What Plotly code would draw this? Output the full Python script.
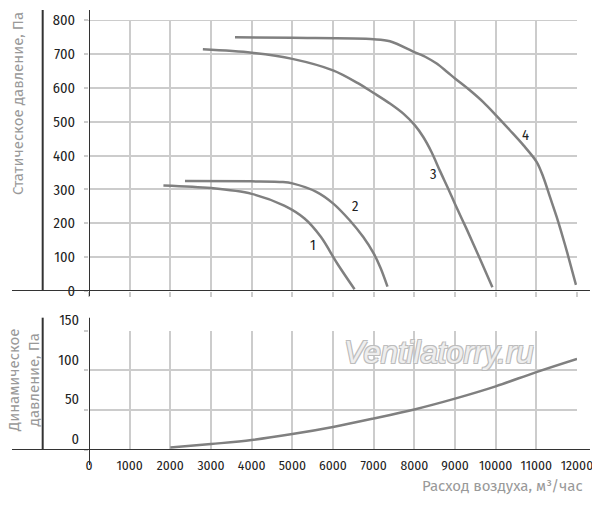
import plotly.graph_objects as go

# air flow, m3/h  /  static pressure, Pa  (curves 1-4)
flow_1 = [1830, 3000, 4000, 4800, 5300, 5700, 6100, 6530]
pres_1 = [312, 304, 287, 252, 214, 160, 82, 5]

flow_2 = [2360, 4000, 4770, 5000, 5590, 6000, 6410, 6740, 7000, 7170, 7340]
pres_2 = [325, 324, 322, 318, 293, 259, 209, 160, 111, 68, 13]

flow_3 = [2800, 4000, 5000, 6000, 6600, 7000, 7400, 7730, 8010, 8220, 8425,
          8630, 8850, 9000, 9290, 9610, 9920]
pres_3 = [714, 704, 686, 652, 615, 585, 554, 524, 490, 455, 410,
          355, 298, 257, 182, 96, 11]

flow_4 = [3590, 5000, 7000, 7400, 8000, 8300, 8550, 8800, 9000, 9366, 9695, 10010,
          10350, 10680, 11010, 11170, 11335, 11500, 11600, 11765, 11975]
pres_4 = [750, 748, 744, 738, 706, 690, 672, 648, 628, 593, 558, 519,
          475, 431, 381, 337, 278, 219, 180, 111, 18]

# dynamic pressure
flow_dyn = [2000, 3000, 4000, 5000, 6000, 7000, 8000, 9000, 10000, 11000, 12000]
pres_dyn = [3, 7.5, 12.5, 20, 29, 39.6, 51, 64.6, 80, 98, 114.6]

curve_names = ["1", "2", "3", "4"]
label_flow = [5515, 6540, 8466, 10745]
label_pres = [136, 252, 345, 460]

flow_ticks = list(range(0, 12001, 1000))
static_ticks = list(range(0, 801, 100))
dynamic_ticks = [0, 50, 100, 150]

NARROW = "Fira Sans Condensed, DejaVu Sans Condensed, sans-serif"
TITLE_FONT = "Fira Sans, Open Sans, sans-serif"
GRID = "#cccccc"
DARK = "#333333"
CURVE = "#808080"

fig = go.Figure()

for fl, pr in [(flow_1, pres_1), (flow_2, pres_2), (flow_3, pres_3), (flow_4, pres_4)]:
    fig.add_trace(go.Scatter(x=fl, y=pr, mode="lines", xaxis="x", yaxis="y",
                             line=dict(color=CURVE, width=2.5, shape="spline", smoothing=0.9),
                             hoverinfo="skip"))

fig.add_trace(go.Scatter(x=flow_dyn, y=pres_dyn, mode="lines", xaxis="x2", yaxis="y2",
                         line=dict(color=CURVE, width=2.5, shape="spline"),
                         hoverinfo="skip"))

annotations = []
for name, fx, py in zip(curve_names, label_flow, label_pres):
    annotations.append(dict(x=fx, y=py, xref="x", yref="y", text=name, showarrow=False,
                            font=dict(family=NARROW, size=14.5, color="#222222")))

# axis titles
annotations.append(dict(x=-0.1455, y=0.807, xref="paper", yref="paper",
                        xanchor="center", yanchor="middle",
                        text="Статическое давление, Па", textangle=-90, showarrow=False,
                        font=dict(family=TITLE_FONT, size=15, color="#999999")))
annotations.append(dict(x=-0.133, y=0.163, xref="paper", yref="paper",
                        xanchor="center", yanchor="middle",
                        text="Динамическое<br>давление, Па", textangle=-90, showarrow=False,
                        font=dict(family=TITLE_FONT, size=15, color="#999999")))
annotations.append(dict(x=1.0164, y=-0.0837, xref="paper", yref="paper",
                        xanchor="right", yanchor="middle",
                        text="Расход воздуха, м³/час", showarrow=False,
                        font=dict(family=TITLE_FONT, size=15, color="#999999")))
# watermark
annotations.append(dict(x=8606, y=122.5, xref="x2", yref="y2", text="Ventilatorry.ru",
                        showarrow=False, xanchor="center", yanchor="middle",
                        font=dict(family="Liberation Sans", size=31, color="#eeeeee",
                                  style="italic",
                                  shadow="1px 1px 0 #bdbdbd, -1px -1px 0 #bdbdbd, "
                                         "1px -1px 0 #bdbdbd, -1px 1px 0 #bdbdbd")))

line = dict(color=DARK, width=2)
shapes = [
    # top border of the static-pressure grid
    dict(type="line", xref="paper", yref="y", x0=-0.008, x1=1, y0=800, y1=800,
         line=dict(color=GRID, width=1.5), layer="below"),
    # long horizontal axis lines
    dict(type="line", xref="paper", yref="y", x0=-0.1578, x1=1.0266, y0=0, y1=0, line=line),
    dict(type="line", xref="paper", yref="y2", x0=-0.1578, x1=1.0266, y0=0, y1=0, line=line),
    # outer vertical lines
    dict(type="line", xref="paper", yref="paper", x0=-0.0949, x1=-0.0949,
         y0=0.3698, y1=1.0233, line=line),
    dict(type="line", xref="paper", yref="paper", x0=-0.0949, x1=-0.0949,
         y0=0.0, y1=0.3077, line=line),
    # zero-flow lines
    dict(type="line", xref="x", yref="paper", x0=0, x1=0, y0=0.3581, y1=1.0233, line=line),
    dict(type="line", xref="x2", yref="paper", x0=0, x1=0, y0=-0.0349, y1=0.3077, line=line),
]

ytick_font = dict(family=NARROW, size=14.5, color="#222222")
xtick_font = dict(family=NARROW, size=13.5, color="#222222")

# the page body adds an 8px offset, so the figure is 8px smaller on each side
fig.update_layout(
    width=592, height=497,
    margin=dict(l=81, r=23, t=12, b=55, autoexpand=False),
    paper_bgcolor="white", plot_bgcolor="white",
    showlegend=False,
    xaxis=dict(domain=[0, 1], anchor="y", range=[0, 12000], tickvals=flow_ticks,
               showticklabels=False, showgrid=True, gridcolor=GRID, gridwidth=1.5,
               ticks="outside", ticklen=5, tickcolor=GRID, tickwidth=1.5,
               zeroline=False, showline=False, automargin=False),
    yaxis=dict(domain=[0.3698, 1], anchor="x", range=[0, 800.8], tickvals=static_ticks,
               ticktext=[str(v) for v in static_ticks],
               showgrid=True, gridcolor=GRID, gridwidth=1.5,
               ticks="outside", ticklen=4, tickcolor=GRID, tickwidth=1.5,
               ticklabelstandoff=6, ticklabeloverflow="allow",
               tickfont=ytick_font, zeroline=False, showline=False, automargin=False),
    xaxis2=dict(domain=[0, 1], anchor="y2", range=[0, 12000], tickvals=flow_ticks,
                ticktext=[str(v) for v in flow_ticks],
                showgrid=True, gridcolor=GRID, gridwidth=1.5, ticks="",
                ticklabelstandoff=5, tickfont=xtick_font,
                zeroline=False, showline=False, automargin=False),
    yaxis2=dict(domain=[0, 0.2774], anchor="x2", range=[0, 150], tickvals=dynamic_ticks,
                ticktext=[str(v) for v in dynamic_ticks],
                showgrid=True, gridcolor=GRID, gridwidth=1.5,
                ticks="outside", ticklen=4, tickcolor=GRID, tickwidth=1.5,
                ticklabelposition="outside top", ticklabelstandoff=6,
                ticklabeloverflow="allow",
                tickfont=ytick_font, zeroline=False, showline=False, automargin=False),
    annotations=annotations,
    shapes=shapes,
)

fig.write_html("out.html")
